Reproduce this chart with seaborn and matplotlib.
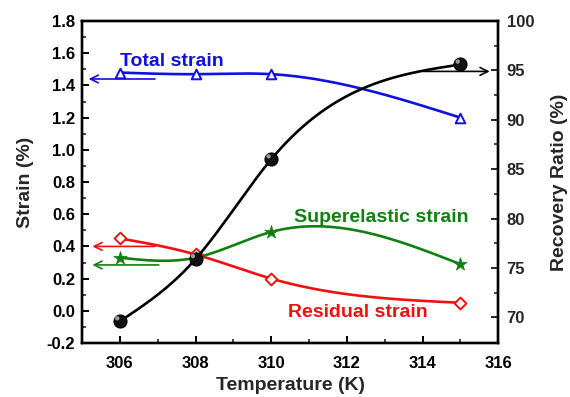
import numpy as np
import pandas as pd
import matplotlib
matplotlib.use("Agg")
import matplotlib.pyplot as plt
import seaborn as sns

temps = [306, 308, 310, 315]
total_strain = [1.48, 1.47, 1.47, 1.20]
residual_strain = [0.45, 0.35, 0.20, 0.05]
superelastic_strain = [0.33, 0.33, 0.49, 0.29]
recovery_ratio = [69.6, 75.9, 86.0, 95.6]

x_ticks = [306, 308, 310, 312, 314, 316]
left_ticks = [-0.2, 0.0, 0.2, 0.4, 0.6, 0.8, 1.0, 1.2, 1.4, 1.6, 1.8]
right_ticks = [70, 75, 80, 85, 90, 95, 100]


def natural_spline(x, y, n=200):
    x = np.asarray(x, float)
    y = np.asarray(y, float)
    k = len(x)
    h = np.diff(x)
    A = np.zeros((k, k))
    b = np.zeros(k)
    A[0, 0] = 1
    A[-1, -1] = 1
    for i in range(1, k - 1):
        A[i, i - 1] = h[i - 1]
        A[i, i] = 2 * (h[i - 1] + h[i])
        A[i, i + 1] = h[i]
        b[i] = 6 * ((y[i + 1] - y[i]) / h[i] - (y[i] - y[i - 1]) / h[i - 1])
    M = np.linalg.solve(A, b)
    xs = np.linspace(x[0], x[-1], n)
    ys = np.empty_like(xs)
    for j, t in enumerate(xs):
        i = min(np.searchsorted(x, t, side="right") - 1, k - 2)
        dx1 = x[i + 1] - t
        dx0 = t - x[i]
        ys[j] = (M[i] * dx1 ** 3 + M[i + 1] * dx0 ** 3) / (6 * h[i]) \
            + (y[i] / h[i] - M[i] * h[i] / 6) * dx1 \
            + (y[i + 1] / h[i] - M[i + 1] * h[i] / 6) * dx0
    return xs, ys


sns.set_theme(style="white")
plt.rcParams["font.family"] = ["Liberation Sans", "DejaVu Sans"]
plt.rcParams["font.weight"] = "bold"

fig = plt.figure(figsize=(5.7, 3.97), dpi=100)
ax = fig.add_axes([0.144, 0.136, 0.730, 0.811])
ax2 = ax.twinx()

blue = "#1010e0"
red = "#f01010"
green = "#108010"

# strain curves
for vals, col in [(total_strain, blue), (residual_strain, red), (superelastic_strain, green)]:
    xs, ys = natural_spline(temps, vals)
    ax.plot(xs, ys, color=col, lw=1.9, zorder=2)

df = pd.DataFrame({"T": temps, "total": total_strain, "res": residual_strain,
                   "sup": superelastic_strain, "rr": recovery_ratio})
sns.scatterplot(data=df, x="T", y="total", ax=ax, marker="^", s=48,
                facecolor="white", edgecolor=blue, linewidth=1.4, zorder=3)
sns.scatterplot(data=df, x="T", y="res", ax=ax, marker="D", s=36,
                facecolor="white", edgecolor=red, linewidth=1.4, zorder=3)
sns.scatterplot(data=df, x="T", y="sup", ax=ax, marker="*", s=100,
                color=green, edgecolor=green, linewidth=0.5, zorder=3)

# recovery ratio
xs, ys = natural_spline(temps, recovery_ratio)
ax2.plot(xs, ys, color="black", lw=1.9, zorder=2)
sns.scatterplot(data=df, x="T", y="rr", ax=ax2, marker="o", s=88,
                color="#111111", edgecolor="#000000", linewidth=0.8, zorder=3)
ax2.scatter(np.array(temps) - 0.07, np.array(recovery_ratio) + 0.3, s=10,
            color="#9a9a9a", edgecolor="none", zorder=4)

ax.set_xlim(305, 316)
ax.set_ylim(-0.2, 1.8)
ax2.set_ylim(67.4, 100)
ax.set_xticks(x_ticks)
ax.set_yticks(left_ticks)
ax.set_yticklabels([f"{v:.1f}" for v in left_ticks])
ax2.set_yticks(right_ticks)
ax.set_xticks([305, 307, 309, 311, 313, 315], minor=True)
ax.set_yticks(np.arange(-0.1, 1.8, 0.2), minor=True)
ax2.set_yticks(np.arange(72.5, 100, 5), minor=True)

for a in (ax, ax2):
    for s in a.spines.values():
        s.set_linewidth(1.7)
        s.set_color("black")
ax.tick_params(axis="both", which="major", direction="in", length=5, width=1.4,
               labelsize=12, colors="black", left=True, bottom=True)
ax.tick_params(axis="x", which="major", pad=9)
ax.tick_params(axis="y", which="major", pad=5)
ax.tick_params(axis="both", which="minor", direction="in", length=3, width=1.2,
               left=True, bottom=True)
ax2.tick_params(axis="y", which="major", direction="in", length=5, width=1.4,
                labelsize=12, right=True, pad=6)
ax2.tick_params(axis="y", which="minor", direction="in", length=3, width=1.2, right=True)
for lab in ax.get_xticklabels() + ax.get_yticklabels() + ax2.get_yticklabels():
    lab.set_fontweight("bold")

ax.set_xlabel("Temperature (K)", fontsize=14, fontweight="bold", labelpad=5)
ax.set_ylabel("Strain (%)", fontsize=14, fontweight="bold", labelpad=9)
ax2.set_ylabel("Recovery Ratio (%)", fontsize=14, fontweight="bold", labelpad=12)

# annotation arrows
arrow = dict(arrowstyle="->", lw=1.2, mutation_scale=14)
ax.annotate("", xy=(305.1, 1.44), xytext=(307.0, 1.44),
            arrowprops=dict(arrow, color=blue))
ax.annotate("", xy=(305.2, 0.40), xytext=(307.0, 0.40),
            arrowprops=dict(arrow, color=red))
ax.annotate("", xy=(305.2, 0.285), xytext=(307.1, 0.285),
            arrowprops=dict(arrow, color=green))
ax2.annotate("", xy=(315.85, 94.9), xytext=(313.95, 94.9),
             arrowprops=dict(arrow, color="black"))

ax.text(306.0, 1.55, "Total strain", color=blue, fontsize=14, fontweight="bold",
        ha="left", va="center")
ax.text(310.6, 0.58, "Superelastic strain", color=green, fontsize=14, fontweight="bold",
        ha="left", va="center")
ax.text(310.45, -0.01, "Residual strain", color=red, fontsize=14, fontweight="bold",
        ha="left", va="center")

ax.grid(False)
ax2.grid(False)
fig.savefig("out.png", dpi=100)
